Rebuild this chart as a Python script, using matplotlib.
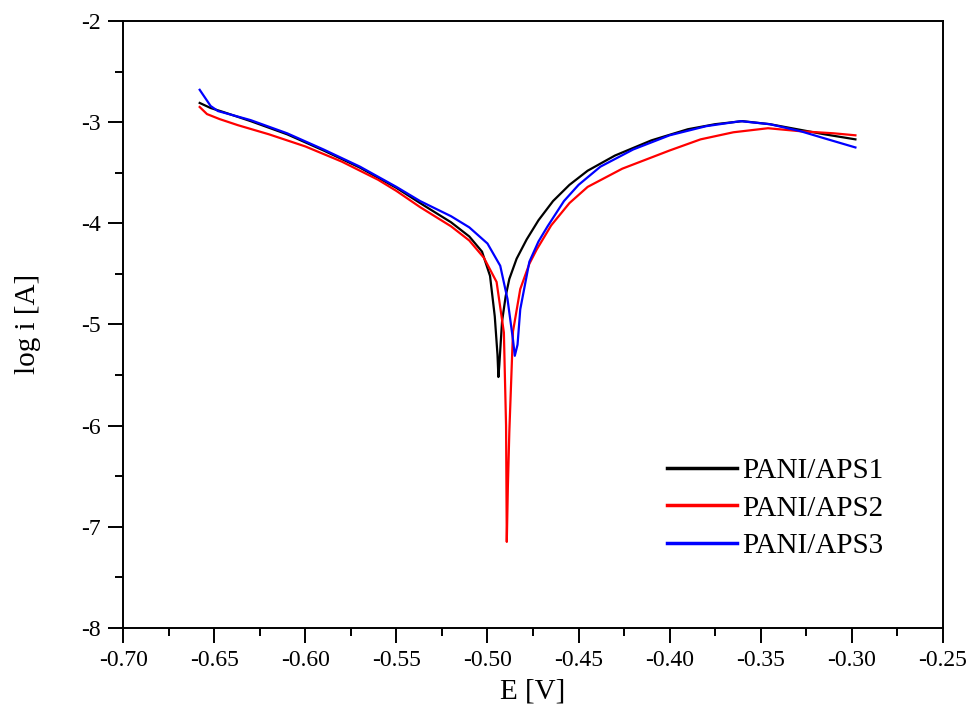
import numpy as np
import matplotlib.pyplot as plt

plt.rcParams['font.family'] = ['Liberation Serif', 'DejaVu Serif']
plt.rcParams['axes.unicode_minus'] = False

# PANI/APS1 (black)
x1 = [-0.658, -0.652, -0.645, -0.63, -0.61, -0.59, -0.57, -0.55, -0.537, -0.52, -0.51,
      -0.503, -0.4986, -0.496, -0.4945, -0.494, -0.4935, -0.492, -0.490, -0.488, -0.484,
      -0.4785, -0.472, -0.464, -0.455, -0.445, -0.43, -0.41, -0.39, -0.375, -0.36,
      -0.345, -0.33, -0.315, -0.298]
y1 = [-2.81, -2.86, -2.90, -2.99, -3.12, -3.28, -3.45, -3.65, -3.80, -3.99, -4.13,
      -4.28, -4.52, -4.92, -5.30, -5.52, -5.40, -4.97, -4.72, -4.55, -4.35,
      -4.16, -3.97, -3.78, -3.62, -3.48, -3.33, -3.18, -3.07, -3.02, -2.99,
      -3.02, -3.07, -3.12, -3.17]

# PANI/APS2 (red)
x2 = [-0.658, -0.654, -0.647, -0.637, -0.62, -0.60, -0.58, -0.56, -0.55, -0.537, -0.52,
      -0.51, -0.502, -0.495, -0.491, -0.4898, -0.4894, -0.4888, -0.488, -0.486, -0.482,
      -0.477, -0.473, -0.465, -0.455, -0.445, -0.426, -0.40, -0.383, -0.365, -0.346,
      -0.328, -0.31, -0.298]
y2 = [-2.85, -2.92, -2.97, -3.03, -3.12, -3.24, -3.39, -3.57, -3.68, -3.84, -4.03,
      -4.17, -4.34, -4.58, -5.08, -6.00, -7.15, -6.60, -6.06, -5.07, -4.65,
      -4.40, -4.26, -4.02, -3.80, -3.64, -3.46, -3.28, -3.17, -3.10, -3.06,
      -3.09, -3.11, -3.13]

# PANI/APS3 (blue)
x3 = [-0.658, -0.655, -0.652, -0.648, -0.64, -0.63, -0.61, -0.59, -0.57, -0.55, -0.537,
      -0.52, -0.51, -0.50, -0.493, -0.489, -0.486, -0.485, -0.4835, -0.482, -0.477,
      -0.472, -0.467, -0.458, -0.45, -0.438, -0.42, -0.40, -0.38, -0.361, -0.345,
      -0.328, -0.315, -0.298]
y3 = [-2.68, -2.76, -2.84, -2.89, -2.93, -2.98, -3.11, -3.27, -3.44, -3.64, -3.78,
      -3.93, -4.04, -4.20, -4.42, -4.75, -5.15, -5.31, -5.20, -4.85, -4.38,
      -4.18, -4.03, -3.78, -3.62, -3.44, -3.27, -3.13, -3.04, -2.99, -3.02,
      -3.09, -3.16, -3.25]

labels = ["PANI/APS1", "PANI/APS2", "PANI/APS3"]
colors = ["black", "#ff0000", "#0000ff"]

fig = plt.figure(figsize=(9.7, 7.25), dpi=100)
ax = fig.add_axes([0.127, 0.134, 0.845, 0.837])

for xs, ys, lab, c in zip([x1, x2, x3], [y1, y2, y3], labels, colors):
    ax.plot(xs, ys, color=c, lw=1.6, label=lab)

ax.set_xlim(-0.70, -0.25)
ax.set_ylim(-8, -2)
xt = np.arange(-0.70, -0.249, 0.05)
ax.set_xticks(xt)
ax.set_xticklabels(["%.2f" % v for v in xt])
ax.set_yticks(np.arange(-8, -1.9, 1))
ax.set_yticklabels(["%d" % v for v in np.arange(-8, -1.9, 1)])
ax.set_yticks(np.arange(-7.5, -2, 1), minor=True)
ax.set_xticks(np.arange(-0.675, -0.25, 0.05), minor=True)
ax.tick_params(which='major', direction='out', length=11, width=1.4, labelsize=17, pad=5)
ax.tick_params(which='minor', direction='out', length=6, width=1.4)
for s in ax.spines.values():
    s.set_linewidth(1.4)

ax.set_xlabel("E [V]", fontsize=21, labelpad=5)
ax.set_ylabel("log i [A]", fontsize=21, labelpad=29)

leg = ax.legend(loc='lower right', bbox_to_anchor=(0.96, 0.07), frameon=False,
                fontsize=21, handlelength=2.4, handletextpad=0.2, labelspacing=0.38)
for line in leg.get_lines():
    line.set_linewidth(2.5)

fig.savefig("out.png", dpi=100)
